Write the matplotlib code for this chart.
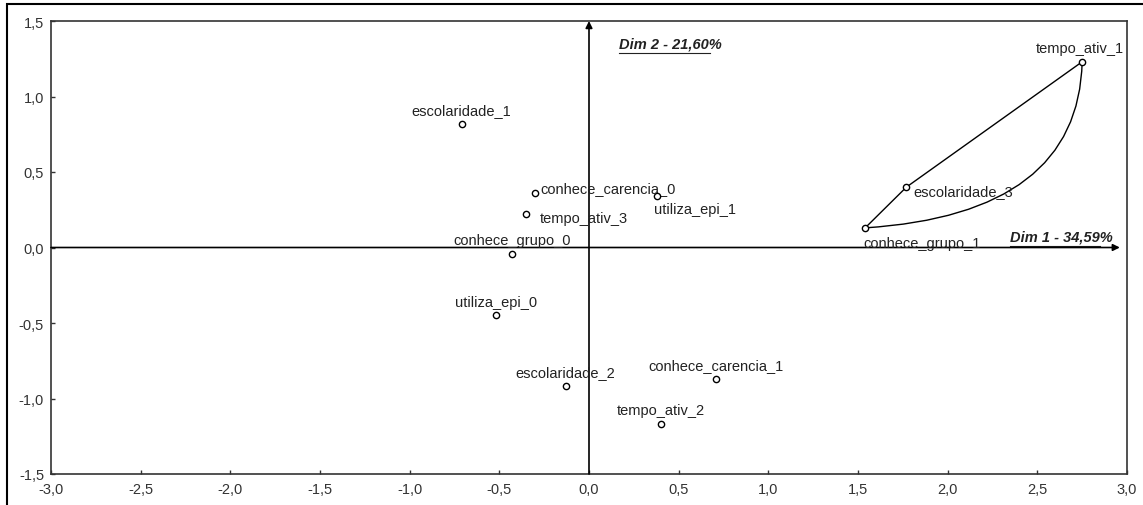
import numpy as np
import matplotlib
matplotlib.use("Agg")
import matplotlib.pyplot as plt
from matplotlib.path import Path
from matplotlib.patches import PathPatch, Rectangle
from matplotlib.ticker import FuncFormatter

plt.rcParams['font.family'] = ['Liberation Sans', 'DejaVu Sans']

# category coordinates (Dim 1, Dim 2)
labels = ["escolaridade_1", "conhece_carencia_0", "utiliza_epi_1", "tempo_ativ_3",
          "conhece_grupo_0", "utiliza_epi_0", "escolaridade_2", "conhece_carencia_1",
          "tempo_ativ_2", "tempo_ativ_1", "escolaridade_3", "conhece_grupo_1"]
dim1 = [-0.71, -0.30, 0.38, -0.35, -0.43, -0.52, -0.13, 0.71, 0.40, 2.75, 1.77, 1.54]
dim2 = [0.82, 0.36, 0.34, 0.22, -0.04, -0.45, -0.92, -0.87, -1.17, 1.23, 0.40, 0.13]

# label offset from its point (points) and alignment
offsets = [(0, 5), (4, 4), (-2, -4), (10, -3), (0, 5), (0, 5), (0, 5), (0, 5),
           (0, 5), (-2, 5), (5, -3), (-1, -6)]
aligns = ["cb", "lc", "lt", "lc", "cb", "cb", "cb", "cb", "cb", "cb", "lc", "lt"]

dim1_label = "Dim 1 - 34,59%"
dim2_label = "Dim 2 - 21,60%"

fig = plt.figure(figsize=(11.43, 5.06), dpi=100)
ax = fig.add_axes([51/1143, 1-475/506, (1127-51)/1143, (475-22)/506])

ax.set_xlim(-3, 3)
ax.set_ylim(-1.5, 1.5)
ax.set_xticks(np.arange(-3, 3.01, 0.5))
ax.set_yticks(np.arange(-1.5, 1.51, 0.5))
fmt = FuncFormatter(lambda v, p: ("%.1f" % v).replace(".", ","))
ax.xaxis.set_major_formatter(fmt)
ax.yaxis.set_major_formatter(fmt)
ax.tick_params(direction='in', length=3, width=1, labelsize=10.5, colors='#333333', pad=5)
ax.tick_params(axis='x', pad=6)
for s in ax.spines.values():
    s.set_linewidth(1.2)
    s.set_color('#333333')

# axis arrows through origin
ax.annotate("", xy=(0, 1.5), xytext=(0, -1.5),
            arrowprops=dict(arrowstyle='-|>', color='black', lw=1.2, mutation_scale=10, shrinkA=0, shrinkB=0))
ax.annotate("", xy=(2.96, 0), xytext=(-3, 0),
            arrowprops=dict(arrowstyle='-|>', color='black', lw=1.2, mutation_scale=10, shrinkA=0, shrinkB=0))

# connections between the right-hand cluster
i1, i3, ig = labels.index("tempo_ativ_1"), labels.index("escolaridade_3"), labels.index("conhece_grupo_1")
ax.plot([dim1[ig], dim1[i3]], [dim2[ig], dim2[i3]], color='black', lw=1)
ax.plot([dim1[i3], dim1[i1]], [dim2[i3], dim2[i1]], color='black', lw=1)
curve = Path([(dim1[i1], dim2[i1]), (dim1[i1] - 0.02, 0.22), (dim1[ig], dim2[ig])],
             [Path.MOVETO, Path.CURVE3, Path.CURVE3])
ax.add_patch(PathPatch(curve, fill=False, lw=1, color='black'))

ax.plot(dim1, dim2, 'o', ms=4.5, mfc='white', mec='black', mew=1, zorder=5)

ha_map = {"c": "center", "l": "left"}
va_map = {"b": "bottom", "c": "center", "t": "top"}
for name, x, y, off, al in zip(labels, dim1, dim2, offsets, aligns):
    ax.annotate(name, (x, y), xytext=off, textcoords='offset points',
                ha=ha_map[al[0]], va=va_map[al[1]], fontsize=10.5, color='#222222')

ax.text(0.165, 1.35, dim2_label, fontsize=10.5, fontweight='bold', style='italic',
        ha='left', va='center', color='#222222')
ax.text(2.92, 0.075, dim1_label, fontsize=10.5, fontweight='bold', style='italic',
        ha='right', va='center', color='#222222')
# underline for the dimension labels (the % sign is not underlined)
ax.plot([0.165, 0.675], [1.285, 1.285], color='#222222', lw=0.8)
ax.plot([2.35, 2.85], [0.01, 0.01], color='#222222', lw=0.8)

# outer frame
fig.patches.append(Rectangle((7/1143, -0.1), 1.2, 1 - 5/506 + 0.1, transform=fig.transFigure,
                             fill=False, ec='black', lw=1.5))

fig.savefig("out.png", dpi=100)
